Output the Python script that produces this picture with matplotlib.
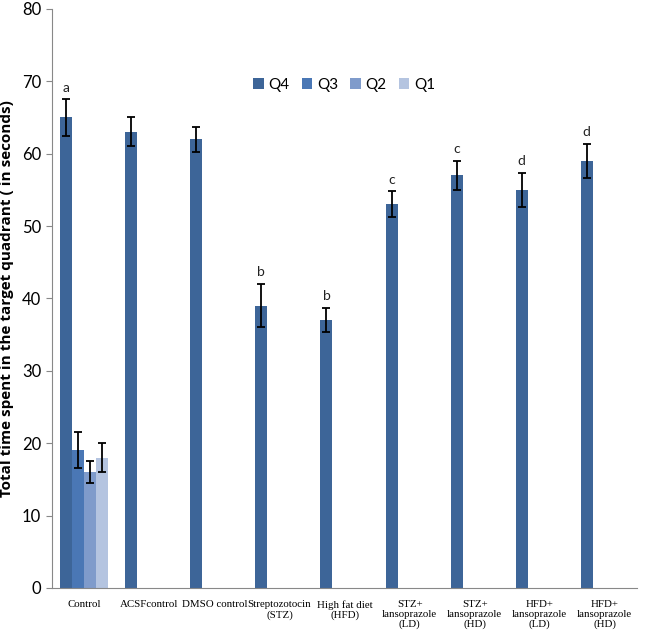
import numpy as np
import matplotlib.pyplot as plt

groups = ['Control', 'ACSFcontrol', 'DMSO control', 'Streptozotocin\n(STZ)',
          'High fat diet\n(HFD)', 'STZ+\nlansoprazole\n(LD)', 'STZ+\nlansoprazole\n(HD)',
          'HFD+\nlansoprazole\n(LD)', 'HFD+\nlansoprazole\n(HD)']
series = ['Q4', 'Q3', 'Q2', 'Q1']
colors = ['#3D6598', '#4A77B5', '#7F9BCB', '#B4C4E0']

# only Control has values for all quadrants
q4 = [65, 63, 62, 39, 37, 53, 57, 55, 59]
q4_err = [2.5, 2.0, 1.7, 3.0, 1.7, 1.8, 2.0, 2.3, 2.4]
q3 = [19] + [np.nan] * 8
q3_err = [2.5] + [np.nan] * 8
q2 = [16] + [np.nan] * 8
q2_err = [1.5] + [np.nan] * 8
q1 = [18] + [np.nan] * 8
q1_err = [2.0] + [np.nan] * 8
letters = ['a', '', '', 'b', 'b', 'c', 'c', 'd', 'd']

values = [q4, q3, q2, q1]
errors = [q4_err, q3_err, q2_err, q1_err]

fig = plt.figure(figsize=(6.47, 6.39), dpi=100)
ax = fig.add_axes([0.080, 0.080, 0.905, 0.906])

x = np.arange(len(groups))
w = 0.185
for k in range(4):
    pos = x + (k - 1.5) * w
    ax.bar(pos, values[k], w, color=colors[k], label=series[k], zorder=2)
    ax.errorbar(pos, values[k], yerr=errors[k], fmt='none', ecolor='black',
                elinewidth=1.3, capsize=3, capthick=1.3, zorder=3)

for i in range(len(groups)):
    if letters[i]:
        ax.text(x[i] - 1.5 * w, q4[i] + q4_err[i] + 0.8, letters[i], ha='center',
                va='bottom', fontsize=10, family='Lato', color='#222222')

ax.set_xlim(-0.5, len(groups) - 0.5)
ax.set_ylim(0, 80)
ax.set_yticks(np.arange(0, 81, 10))
ax.set_xticks(x)
ax.set_xticklabels(groups, family='Liberation Serif', fontsize=7.8, linespacing=1.1)
ax.tick_params(axis='x', length=0, pad=9)
ax.tick_params(axis='y', length=4, color='#888888', labelsize=12)
for lab in ax.get_yticklabels():
    lab.set_family('Lato')
ax.spines['top'].set_visible(False)
ax.spines['right'].set_visible(False)
ax.spines['left'].set_color('#888888')
ax.spines['bottom'].set_color('#888888')
ax.set_ylabel('Total time spent in the target quadrant ( in seconds)', fontsize=11,
              fontweight='bold', family='Open Sans', labelpad=6)

ax.legend(loc='center left', bbox_to_anchor=(0.32, 0.869), ncol=4, frameon=False,
          handlelength=0.7, handleheight=0.7, handletextpad=0.3, columnspacing=0.8,
          prop={'family': 'Lato', 'size': 11})

fig.savefig('out.png', dpi=100)
